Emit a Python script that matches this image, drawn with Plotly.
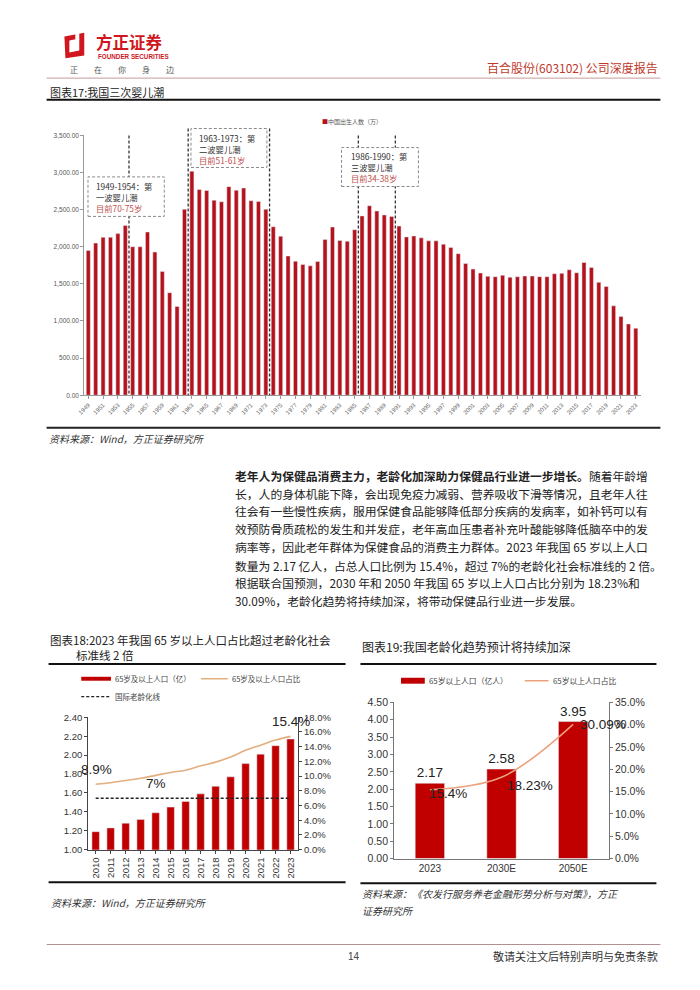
import plotly.graph_objects as go

W, H = 700, 990
def px(x): return x / W
def py(y): return 1 - y / H

CJK = "Noto Sans CJK SC"
LAT = "Liberation Sans"
RED = "#B5121B"
RED2 = "#C00000"

# ---------------- data ----------------
years17 = list(range(1949, 2024))
births = [1951, 2049, 2128, 2128, 2177, 2288, 2000, 2000, 2199, 1929,
          1668, 1381, 1195, 2505, 3018, 2770, 2757, 2628, 2606, 2810,
          2761, 2792, 2620, 2611, 2505, 2270, 2142, 1876, 1805, 1761,
          1743, 1801, 2097, 2266, 2084, 2075, 2230, 2416, 2553, 2482,
          2429, 2407, 2279, 2133, 2146, 2120, 2080, 2080, 2035, 1991,
          1907, 1774, 1699, 1646, 1602, 1597, 1615, 1589, 1597, 1606,
          1606, 1597, 1597, 1637, 1642, 1690, 1650, 1788, 1721, 1522,
          1465, 1204, 1062, 960, 903]
tick17 = years17[::2]

years18 = list(range(2010, 2024))
pop18 = [1.19, 1.23, 1.28, 1.32, 1.39, 1.45, 1.51, 1.59, 1.67, 1.77, 1.91, 2.01, 2.10, 2.17]
ratio18 = [8.9, 9.1, 9.4, 9.7, 10.1, 10.5, 10.8, 11.4, 11.9, 12.6, 13.5, 14.2, 14.9, 15.4]
aging_line = 7.0

cats19 = ["2023", "2030E", "2050E"]
pop19 = [2.17, 2.58, 3.95]
ratio19 = [15.4, 18.23, 30.09]
pos19 = list(range(len(cats19)))

body_lines = [
    "<b>老年人为保健品消费主力，老龄化加深助力保健品行业进一步增长。</b>随着年龄增",
    "长，人的身体机能下降，会出现免疫力减弱、营养吸收下滑等情况，且老年人往",
    "往会有一些慢性疾病，服用保健食品能够降低部分疾病的发病率，如补钙可以有",
    "效预防骨质疏松的发生和并发症，老年高血压患者补充叶酸能够降低脑卒中的发",
    "病率等，因此老年群体为保健食品的消费主力群体。2023 年我国 65 岁以上人口",
    "数量为 2.17 亿人，占总人口比例为 15.4%，超过 7%的老龄化社会标准线的 2 倍。",
    "根据联合国预测，2030 年和 2050 年我国 65 岁以上人口占比分别为 18.23%和",
    "30.09%，老龄化趋势将持续加深，将带动保健品行业进一步发展。",
]

fig = go.Figure()

# ---------------- chart 17 ----------------
fig.add_trace(go.Bar(x=years17, y=births, marker_color=RED, width=0.55,
                     xaxis="x", yaxis="y", showlegend=False))

# ---------------- chart 18 ----------------
fig.add_trace(go.Bar(x=years18, y=pop18, marker_color=RED2, width=0.5,
                     xaxis="x2", yaxis="y2", showlegend=False))
fig.add_trace(go.Scatter(x=years18, y=ratio18, mode="lines",
                         line=dict(color="#E3AE7E", width=1.6, shape="spline"),
                         xaxis="x2", yaxis="y3", showlegend=False))
fig.add_trace(go.Scatter(x=[years18[0], years18[-1]], y=[aging_line, aging_line], mode="lines",
                         line=dict(color="#222222", width=1.5, dash="3px,2px"),
                         xaxis="x2", yaxis="y3", showlegend=False))

# ---------------- chart 19 ----------------
fig.add_trace(go.Bar(x=pos19, y=pop19, marker_color=RED2, width=0.41,
                     text=[f"{v:.2f}" for v in pop19], textposition="outside",
                     textfont=dict(family=LAT, size=13.5, color="#222"),
                     cliponaxis=False, constraintext="none",
                     xaxis="x3", yaxis="y4", showlegend=False))
fig.add_trace(go.Scatter(x=pos19, y=ratio19, mode="lines",
                         line=dict(color="#EBA27C", width=1.6, shape="spline"),
                         xaxis="x3", yaxis="y5", showlegend=False))

tickfont_small = dict(family=LAT, size=6, color="#666")
tf18 = dict(family=LAT, size=9.5, color="#333")

fig.update_layout(
    width=W, height=H, margin=dict(l=0, r=0, t=0, b=0),
    paper_bgcolor="white", plot_bgcolor="white",
    bargap=0.4,
    xaxis=dict(domain=[px(78), px(640)], anchor="y", range=[1948.45, 2023.65],
               tickvals=tick17, ticktext=[str(t) for t in tick17], tickangle=-45,
               tickfont=tickfont_small, showgrid=False, zeroline=False,
               showline=True, linecolor="#999", linewidth=1,
               ticks="outside", ticklen=3, tickcolor="#999"),
    yaxis=dict(domain=[py(394), py(131)], anchor="x", range=[0, 3500],
               tickvals=list(range(0, 3501, 500)), tickformat=",.2f",
               tickfont=dict(family=LAT, size=6.5, color="#555"),
               showgrid=False, zeroline=False, showline=True, linecolor="#999",
               ticks="outside", ticklen=3, tickcolor="#999"),
    xaxis2=dict(domain=[px(82), px(294)], anchor="y2", range=[2009.5, 2023.5],
                tickvals=years18, ticktext=[str(y) for y in years18], tickangle=-90,
                tickfont=tf18, showgrid=False, zeroline=False,
                showline=True, linecolor="#444", ticks="outside", ticklen=3, tickcolor="#444"),
    yaxis2=dict(domain=[py(854), py(720)], anchor="x2", range=[1.0, 2.4], dtick=0.2,
                tickformat=".2f", tickfont=tf18, showgrid=False, zeroline=False,
                showline=True, linecolor="#444", ticks="outside", ticklen=3, tickcolor="#444"),
    yaxis3=dict(domain=[py(854), py(720)], anchor="x2", overlaying="y2", side="right",
                range=[0, 18], dtick=2, tickformat=".1f", ticksuffix="%",
                tickfont=tf18, showgrid=False, zeroline=False,
                showline=True, linecolor="#444", ticks="outside", ticklen=3, tickcolor="#444"),
    xaxis3=dict(domain=[px(391), px(608)], anchor="y4", type="linear", range=[-0.5, 2.5],
                tickvals=pos19, ticktext=cats19,
                tickfont=dict(family=LAT, size=10, color="#333"), showgrid=False, zeroline=False,
                showline=True, linecolor="#777"),
    yaxis4=dict(domain=[py(863), py(705)], anchor="x3", range=[0, 4.5], dtick=0.5,
                tickformat=".2f", tickfont=dict(family=LAT, size=10.5, color="#333"),
                showgrid=False, zeroline=False, showline=True, linecolor="#777",
                ticks="outside", ticklen=3, tickcolor="#777"),
    yaxis5=dict(domain=[py(863), py(705)], anchor="x3", overlaying="y4", side="right",
                range=[0, 35], dtick=5, tickformat=".1f", ticksuffix="%",
                tickfont=dict(family=LAT, size=10.5, color="#333"),
                showgrid=False, zeroline=False, showline=True, linecolor="#777",
                ticks="outside", ticklen=3, tickcolor="#777"),
)

shapes = []
ann = []

def hline(x0, x1, y, color, width):
    shapes.append(dict(type="line", xref="paper", yref="paper",
                       x0=px(x0), x1=px(x1), y0=py(y), y1=py(y),
                       line=dict(color=color, width=width)))

def text(x, y, s, size=12, color="#222", xanchor="left", family=CJK, **kw):
    ann.append(dict(xref="paper", yref="paper", x=px(x), y=py(y), text=s,
                    showarrow=False, xanchor=xanchor, yanchor="middle",
                    font=dict(family=family, size=size, color=color), **kw))

# ---------- header ----------
shapes.append(dict(type="path", xref="paper", yref="paper",
                   path=f"M {px(58)},{py(31)} L {px(78)},{py(27)} L {px(78)},{py(50)} L {px(59)},{py(53)} Z",
                   fillcolor="#D0161E", line=dict(width=0)))
shapes.append(dict(type="path", xref="paper", yref="paper",
                   path=f"M {px(63)},{py(35)} L {px(73)},{py(33)} L {px(73)},{py(45)} L {px(63)},{py(47)} Z",
                   fillcolor="white", line=dict(width=0)))
shapes.append(dict(type="path", xref="paper", yref="paper",
                   path=f"M {px(69)},{py(25)} L {px(73)},{py(25)} L {px(73)},{py(34)} L {px(69)},{py(34)} Z",
                   fillcolor="white", line=dict(width=0)))
text(88, 36, "<b>方正证券</b>", size=16.5, color="#D0161E")
text(90, 51.5, "<b>FOUNDER SECURITIES</b>", size=6.3, color="#D0161E", family=LAT)
text(62, 64.5, "正　　在　　你　　身　　边", size=8, color="#555")
text(660, 62, "百合股份(603102) 公司深度报告", size=12, color="#C0392B", xanchor="right")
hline(40, 660, 73, "#C49A9A", 1)

# ---------- chart 17 title ----------
text(41, 87, "图表17:我国三次婴儿潮", size=11, color="#222")
hline(40, 660, 95, "#111", 2)

# legend 17
text(316, 117, "<span style='color:#B5121B'>■</span>中国出生人数（万）", size=6, color="#555")

# dashed vertical lines
for xv, ytop in [(1954.5, 131), (1962.5, 124), (1973.5, 124), (1985.5, 131), (1990.5, 131)]:
    shapes.append(dict(type="line", xref="x", yref="paper", x0=xv, x1=xv,
                       y0=py(ytop), y1=py(394), line=dict(color="#333", width=1.3, dash="3px,2px")))

boxes = [
    (1948.96, 1959.27, 173, 213, 88, 193.3, ["1949-1954：第", "一波婴儿潮", "目前70-75岁"]),
    (1962.88, 1973.14, 124, 163.5, 192, 144.5, ["1963-1973：第", "二波婴儿潮", "目前51-61岁"]),
    (1983.23, 1993.62, 143.3, 182.7, 345, 163.2, ["1986-1990：第", "三波婴儿潮", "目前34-38岁"]),
]
for x0, x1, y0, y1, tx, tmid, lines in boxes:
    shapes.append(dict(type="rect", xref="x", yref="paper", x0=x0, x1=x1,
                       y0=py(y1), y1=py(y0), fillcolor="white",
                       line=dict(color="#8A8A8A", width=1, dash="3px,2px")))
    s = f"{lines[0]}<br>{lines[1]}<br><span style='color:#C0504D'>{lines[2]}</span>"
    text(tx, tmid, s, size=8.3, color="#333", align="left")

hline(40, 660, 427, "#222", 2)
text(40, 438, "<i>资料来源：Wind，方正证券研究所</i>", size=10, color="#333")

# ---------- body text ----------
ys = [475, 493, 511, 529, 547.5, 566, 584, 602]
for y, s in zip(ys, body_lines):
    text(228, y, s, size=11.8, color="#222")

# ---------- chart 18 ----------
text(41, 642, "图表18:2023 年我国 65 岁以上人口占比超过老龄化社会", size=11.5, color="#222")
text(68, 657, "标准线 2 倍", size=11.5, color="#222")
hline(42, 342, 666, "#111", 2)
shapes.append(dict(type="rect", xref="paper", yref="paper", x0=px(75), x1=px(105),
                   y0=py(683), y1=py(679), fillcolor=RED2, line=dict(width=0)))
text(107, 681, "65岁及以上人口（亿）", size=7.5, color="#444")
hline(196, 223, 681, "#E3AE7E", 1.5)
text(225, 681, "65岁及以上人口占比", size=7.5, color="#444")
shapes.append(dict(type="line", xref="paper", yref="paper", x0=px(75), x1=px(105),
                   y0=py(699), y1=py(699), line=dict(color="#222", width=1.3, dash="3px,2px")))
text(107, 699, "国际老龄化线", size=7.5, color="#444")
text(90, 773, "8.9%", size=13.5, color="#222", xanchor="center", family=LAT)
text(151, 787, "7%", size=13.5, color="#222", xanchor="center", family=LAT)
text(287, 724, "15.4%", size=13.5, color="#222", xanchor="center", family=LAT)
hline(42, 342, 887, "#111", 2)
text(42, 907, "<i>资料来源：Wind，方正证券研究所</i>", size=10, color="#333")

# ---------- chart 19 ----------
text(357, 648, "图表19:我国老龄化趋势预计将持续加深", size=12, color="#222")
hline(357, 656, 666, "#111", 2)
shapes.append(dict(type="rect", xref="paper", yref="paper", x0=px(398), x1=px(422),
                   y0=py(686), y1=py(680), fillcolor=RED2, line=dict(width=0)))
text(424, 683, "65岁以上人口（亿人）", size=7.8, color="#444")
hline(523, 547, 683, "#EBA27C", 1.5)
text(549, 683, "65岁以上人口占比", size=7.8, color="#444")
for p, r, dx, dy in zip(pos19, ratio19, [18, 28, 30], [-4, -8, 0]):
    ann.append(dict(xref="x3", yref="y5", x=p, y=r, text=f"{r:g}%", showarrow=False,
                    xshift=dx, yshift=dy,
                    font=dict(family=LAT, size=13.5, color="#222")))
hline(357, 656, 888, "#111", 2)
text(357, 898, "<i>资料来源：《农发行服务养老金融形势分析与对策》，方正</i>", size=10, color="#333")
text(357, 916, "<i>证券研究所</i>", size=10, color="#333")

# ---------- footer ----------
hline(40, 660, 950, "#B09090", 1)
text(350, 962, "14", size=10, color="#444", xanchor="center", family=LAT)
text(660, 962, "敬请关注文后特别声明与免责条款", size=11, color="#333", xanchor="right")

fig.update_layout(shapes=shapes, annotations=ann)
fig.write_html("out.html")
